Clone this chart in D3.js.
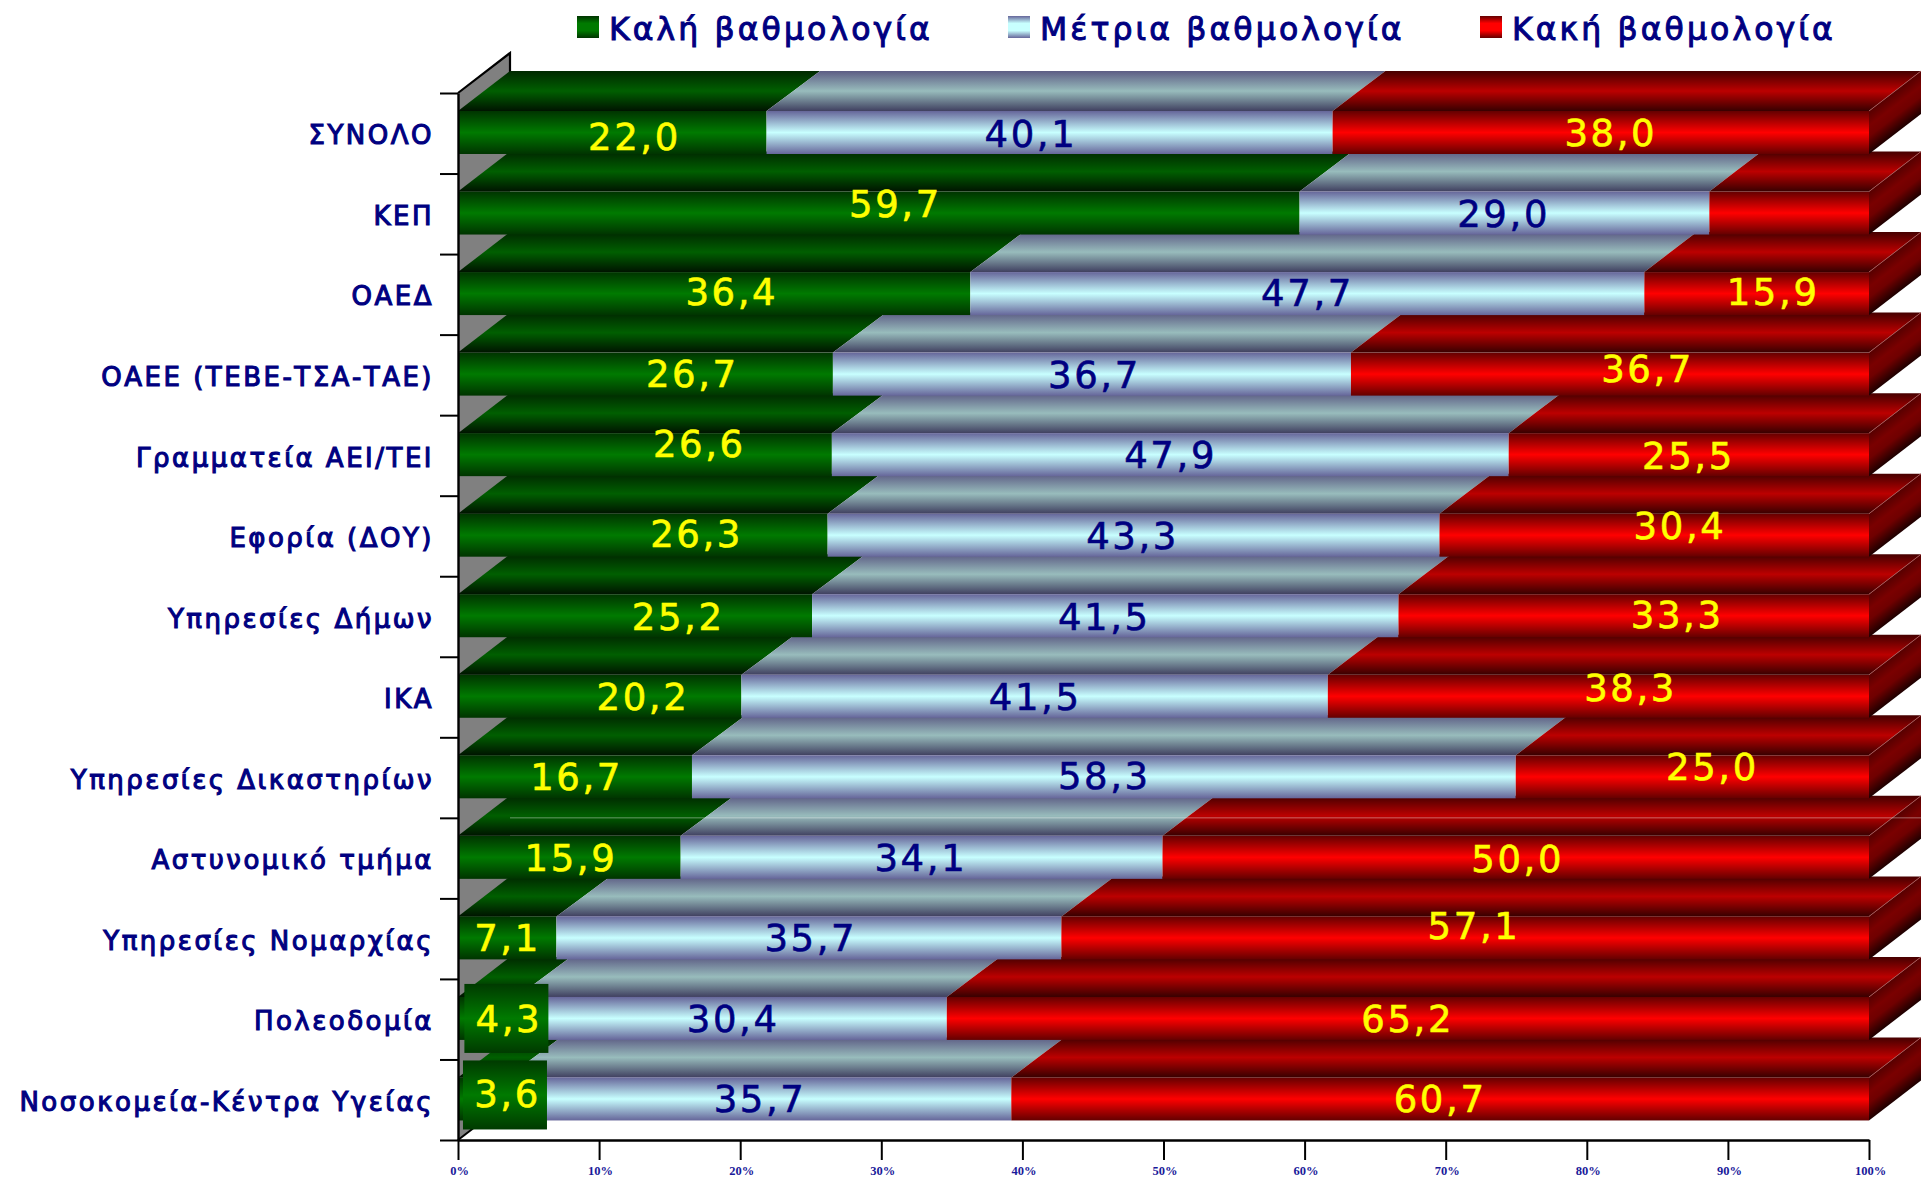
<!DOCTYPE html>
<html><head><meta charset="utf-8">
<script src="https://cdnjs.cloudflare.com/ajax/libs/d3/7.8.5/d3.min.js"></script>
<style>html,body{margin:0;padding:0;background:#fff}svg{display:block}</style></head>
<body><svg id="c" width="1921" height="1178"></svg>
<script>
const categories=["ΣΥΝΟΛΟ","ΚΕΠ","ΟΑΕΔ","ΟΑΕΕ (ΤΕΒΕ-ΤΣΑ-ΤΑΕ)","Γραμματεία ΑΕΙ/ΤΕΙ","Εφορία (ΔΟΥ)","Υπηρεσίες Δήμων","ΙΚΑ","Υπηρεσίες Δικαστηρίων","Αστυνομικό τμήμα","Υπηρεσίες Νομαρχίας","Πολεοδομία","Νοσοκομεία-Κέντρα Υγείας"];
const seriesNames=["Καλή βαθμολογία","Μέτρια βαθμολογία","Κακή βαθμολογία"];
const good=[22.0,59.7,36.4,26.7,26.6,26.3,25.2,20.2,16.7,15.9,7.1,4.3,3.6];
const medium=[40.1,29.0,47.7,36.7,47.9,43.3,41.5,41.5,58.3,34.1,35.7,30.4,35.7];
const bad=[38.0,11.3,15.9,36.7,25.5,30.4,33.3,38.3,25.0,50.0,57.1,65.2,60.7];
const badLabelled=[true,false,true,true,true,true,true,true,true,true,true,true,true];
const xTicks=[0,10,20,30,40,50,60,70,80,90,100];
// where the hand-placed value labels sit along the percent axis, and their vertical nudge
const labelAtGood=[12.4,30.9,19.3,16.5,17.0,16.8,15.5,13.0,8.3,7.9,3.4,3.5,3.4];
const labelAtMedium=[40.5,74.0,60.1,45.0,50.4,47.7,45.7,40.8,45.7,32.7,24.9,19.4,21.3];
const labelAtBad=[81.6,0,93.1,84.2,87.1,86.5,86.3,83.0,88.8,75.0,71.9,67.2,69.5];
const nudgeGood=[4,-9,-2,0,-11,-2,1,0,0,0,0,0,-5];
const nudgeMedium=[1,1,-1,1,0,0,1,0,-1,0,0,0,0];
const nudgeBad=[0,0,-2,-5,1,-10,-1,-9,-10,1,-12,0,0];

const X0=458,X1=1869,DX=52,DY=40,AXY=1140,TOPY=93,FOFF=18,FH=43;
const x=d3.scaleLinear().domain([0,100]).range([X0,X1]);
const barX=d3.scaleLinear().domain([0,100]).range([X0-2,X1]);
const yEdge=d3.scaleLinear().domain([0,13]).range([TOPY,AXY]);
const svg=d3.select("#c"),defs=svg.append("defs");
const frontStops=[["#003400","#007a00"],["#66669a","#c8ffff"],["#640000","#ff0000"]];
const topStops=[["#002800","#005f00","#001400"],["#5c5c84","#98bcbc","#404060"],["#460000","#bc0000","#380000"]];
function grad(id,stops){
  const g=defs.append("linearGradient").attr("id",id).attr("x1",0).attr("y1",0).attr("x2",0).attr("y2",1);
  stops.forEach((c,i)=>g.append("stop").attr("offset",i/(stops.length-1)).attr("stop-color",c));
}
frontStops.forEach((s,i)=>grad("f"+i,[s[0],s[1],s[0]]));
topStops.forEach((s,i)=>grad("t"+i,s));
frontStops.forEach((s,i)=>grad("l"+i,[s[0],s[1],s[1],s[0]]));

const rows=categories.map((c,i)=>{
  const vals=[good[i],medium[i],bad[i]],tot=d3.sum(vals);
  let cum=0;
  return {i,c,ft:yEdge(i)+FOFF,segs:vals.map((v,k)=>{const a=cum/tot*100;cum+=v;return {k,a,b:cum/tot*100};})};
});
const left=d=>d.a===0?X0:barX(d.a);
// back wall
const wallTop=TOPY,wallBot=AXY;
svg.append("path").attr("fill","#808080")
 .attr("d",d3.line()([[X0,wallTop],[X0+DX,wallTop-DY],[X0+DX,wallBot-DY],[X0,wallBot]]));
svg.append("path").attr("fill","none").attr("stroke","#000").attr("stroke-width",2.2)
 .attr("d",d3.line()([[X0,wallTop],[X0+DX,wallTop-DY],[X0+DX,wallTop-DY+20]]));
svg.append("path").attr("fill","none").attr("stroke","#000").attr("stroke-width",2)
 .attr("d",d3.line()([[X0,wallBot],[X0+DX,wallBot-DY]]));

const rowG=svg.selectAll("g.row").data(rows.slice().reverse()).join("g").attr("class","row");
rowG.each(function(r){
  const g=d3.select(this),ft=r.ft;
  const id="r"+r.i;
  const sg=defs.append("linearGradient").attr("id",id).attr("gradientUnits","userSpaceOnUse")
    .attr("x1",X1).attr("y1",ft).attr("x2",X1+20.5).attr("y2",ft+26.7);
  [["0","#560000"],[".35","#7a0000"],[".6","#700000"],["1","#200000"]].forEach(s=>sg.append("stop").attr("offset",s[0]).attr("stop-color",s[1]));
  g.selectAll("path.top").data(r.segs).join("path").attr("class","top")
    .attr("fill",d=>`url(#t${d.k})`)
    .attr("d",d=>d3.line()([[left(d),ft],[barX(d.b),ft],[x(d.b)+DX,ft-DY],[x(d.a)+DX,ft-DY]]));
  g.append("path").attr("fill",`url(#${id})`)
    .attr("d",d3.line()([[X1,ft],[X1+DX,ft-DY],[X1+DX,ft-DY+FH],[X1,ft+FH]]));
  g.append("path").attr("stroke","#b06060").attr("stroke-width",.8).attr("fill","none")
    .attr("d",d3.line()([[X1,ft],[X1+DX,ft-DY]]));
  g.selectAll("rect.front").data(r.segs).join("rect").attr("class","front")
    .attr("x",left).attr("width",d=>barX(d.b)-left(d)).attr("y",ft).attr("height",FH)
    .attr("fill",d=>`url(#f${d.k})`);
});
// hairline visible in the reference's top faces
svg.append("line").attr("x1",X0+DX).attr("x2",X1+DX).attr("y1",yEdge(9)).attr("y2",yEdge(9)).attr("stroke","#fff").attr("stroke-opacity",.4).attr("stroke-width",1);

// axes
const xAxis=d3.axisBottom(x).tickValues(xTicks).tickSize(20).tickSizeOuter(0).tickPadding(6).tickFormat(d=>d+"%");
const gx=svg.append("g").attr("transform",`translate(0,${AXY})`).call(xAxis);
gx.select(".domain").attr("stroke","#000").attr("stroke-width",2.4);
gx.selectAll(".tick line").attr("stroke","#000").attr("stroke-width",2);
gx.selectAll("text").attr("font-family","'Liberation Serif',serif").attr("font-weight","bold").attr("font-size",12.5).attr("fill","#1a1a9a").attr("dx",1);
const yAxis=d3.axisLeft(yEdge).tickValues(d3.range(14)).tickSize(18).tickSizeOuter(0).tickFormat("");
const gy=svg.append("g").attr("transform",`translate(${X0},0)`).call(yAxis);
gy.select(".domain").attr("stroke","#000").attr("stroke-width",2.4);
gy.selectAll(".tick line").attr("stroke","#000").attr("stroke-width",2);

// category labels
svg.selectAll("text.cat").data(rows).join("text").attr("class","cat")
  .attr("x",434).attr("y",r=>r.ft+FH/2+2.5).attr("dy","0.36em").attr("text-anchor","end")
  .attr("font-family","'DejaVu Sans',sans-serif").attr("font-size",26)
  .attr("stroke","#000080").attr("stroke-width",1.1)
  .attr("letter-spacing",2.5).attr("fill","#000080").text(r=>r.c);

// label plates behind the two narrowest values
grad("plate",["#003a00","#007a00","#003a00"]);
svg.selectAll("rect.plate").data([11,12]).join("rect").attr("class","plate")
  .attr("x",d=>x(labelAtGood[d])-43).attr("width",84)
  .attr("y",d=>rows[d].ft-(d==11?13:17)).attr("height",69).attr("fill","url(#plate)");

// value labels
const labels=[];
rows.forEach(r=>{
  labels.push({t:good[r.i],at:labelAtGood[r.i],n:nudgeGood[r.i],r,c:"#ffff00"});
  labels.push({t:medium[r.i],at:labelAtMedium[r.i],n:nudgeMedium[r.i],r,c:"#000080"});
  if(badLabelled[r.i])labels.push({t:bad[r.i],at:labelAtBad[r.i],n:nudgeBad[r.i],r,c:"#ffff00"});
});
svg.selectAll("text.val").data(labels).join("text").attr("class","val")
  .attr("x",d=>x(d.at)+1.5).attr("y",d=>d.r.ft+FH/2+d.n).attr("dy","0.36em").attr("text-anchor","middle")
  .attr("font-family","'DejaVu Sans',sans-serif").attr("font-size",37).attr("letter-spacing",2.6)
  .attr("fill",d=>d.c).attr("stroke",d=>d.c).attr("stroke-width",.6).text(d=>d.t.toFixed(1).replace(".",","));

// legend
const legendX=[577,1008,1480];
const lg=svg.selectAll("g.leg").data(seriesNames).join("g").attr("class","leg");
lg.append("rect").attr("x",(d,i)=>legendX[i]).attr("y",16).attr("width",22).attr("height",22).attr("fill",(d,i)=>`url(#l${i})`);
lg.append("text").attr("x",(d,i)=>legendX[i]+32).attr("y",40).attr("font-family","'DejaVu Sans',sans-serif")
  .attr("font-size",31.5).attr("letter-spacing",3.1).attr("fill","#000080").attr("stroke","#000080").attr("stroke-width",1).text(d=>d);
</script></body></html>
